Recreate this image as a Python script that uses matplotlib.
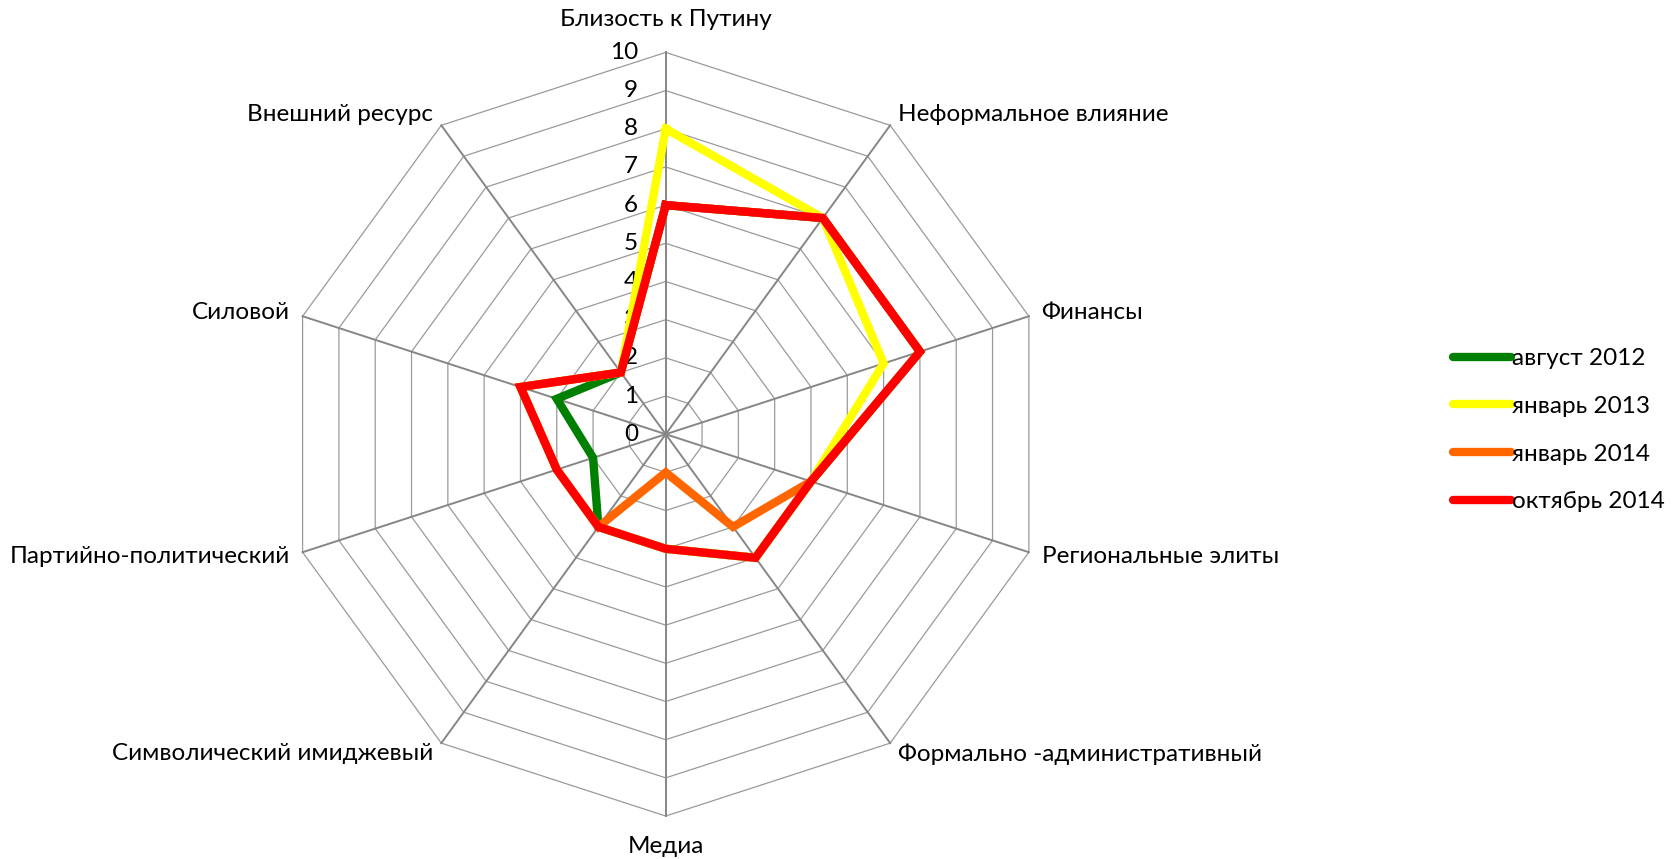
import numpy as np
import matplotlib.pyplot as plt
from matplotlib.lines import Line2D

plt.rcParams['font.family'] = ['Lato', 'DejaVu Sans']

# categories, clockwise from the top
categories = ['Близость к Путину', 'Неформальное влияние', 'Финансы',
              'Региональные элиты', 'Формально -административный', 'Медиа',
              'Символический имиджевый', 'Партийно-политический', 'Силовой',
              'Внешний ресурс']
series_names = ['август 2012', 'январь 2013', 'январь 2014', 'октябрь 2014']
aug_2012 = [6, 7, 7, 4, 4, 3, 3, 2, 3, 2]
jan_2013 = [8, 7, 6, 4, 4, 3, 3, 3, 4, 2]
jan_2014 = [6, 7, 7, 4, 3, 1, 3, 3, 4, 2]
oct_2014 = [6, 7, 7, 4, 4, 3, 3, 3, 4, 2]
colors = ['#008000', '#FFFF00', '#FF6600', '#FF0000']
ticks = list(range(0, 11))

fs = 17.5
lw = 6.0

n = len(categories)
theta = np.linspace(0, 2 * np.pi, n, endpoint=False)
theta_closed = np.append(theta, theta[0])

fig = plt.figure(figsize=(16.79, 8.59), dpi=100)
ax = fig.add_axes([0.169, 0.050, 0.455, 0.889], projection='polar')
ax.set_theta_zero_location('N')
ax.set_theta_direction(-1)
ax.set_ylim(0, 10)
ax.grid(False)
ax.spines['polar'].set_visible(False)
ax.set_xticks([])
ax.set_yticks([])

# polygon grid
for k in ticks[1:]:
    ax.plot(theta_closed, [k] * (n + 1), color='#9a9a9a', lw=0.9, zorder=1, clip_on=False)
for t in theta:
    ax.plot([t, t], [0, 10], color='#868686', lw=1.4, zorder=1, clip_on=False)

# data
all_series = [aug_2012, jan_2013, jan_2014, oct_2014]
for i, vals in enumerate(all_series):
    v = np.append(vals, vals[0])
    ax.plot(theta_closed, v, color=colors[i], lw=lw, solid_joinstyle='miter',
            zorder=3 + i, clip_on=False)

# category labels
for t, name in zip(theta, categories):
    s = np.sin(t)
    if abs(s) < 0.01:
        r = 10.85 if np.cos(t) > 0 else 10.8
        ax.text(t, r, name, ha='center', va='center', fontsize=fs)
    else:
        ax.text(t, 10.35, name, ha='left' if s > 0 else 'right', va='center', fontsize=fs)

# radial tick labels
for k in ticks:
    ax.annotate(str(k), xy=(0, k), xytext=(-20, 0), textcoords='offset points',
                ha='right', va='center', fontsize=fs, zorder=2)

handles = [Line2D([0], [0], color=c, lw=lw, solid_capstyle='round') for c in colors]
fig.legend(handles, series_names, loc='center left', bbox_to_anchor=(1443 / 1679, 0.499),
           frameon=False, fontsize=fs, handlelength=2.4, handletextpad=0.05,
           labelspacing=1.1, borderaxespad=0)

fig.savefig('out.png', dpi=100)
